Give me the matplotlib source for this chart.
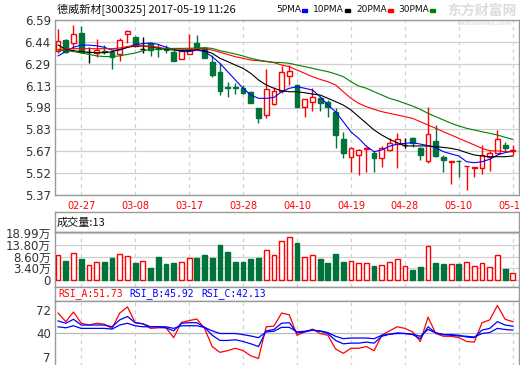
import numpy as np
import matplotlib
matplotlib.use("Agg")
import matplotlib.pyplot as plt

plt.rcParams['font.family'] = ['DejaVu Sans', 'Noto Sans CJK SC']

# Kerzen (Index 0 = 02-22, Index 59 = 05-19)
eroeffnung = [6.374, 6.451, 6.427, 6.497, 6.365, 6.358, 6.375, 6.370, 6.350, 6.490,
              6.469, 6.390, 6.427, 6.395, 6.390, 6.370, 6.316, 6.350, 6.427, 6.397,
              6.300, 6.230, 6.120, 6.120, 6.118, 6.090, 5.974, 5.928, 6.002, 6.095,
              6.200, 6.137, 5.986, 6.020, 6.044, 6.020, 5.950, 5.760, 5.633, 5.649,
              5.690, 5.665, 5.626, 5.684, 5.725, 5.718, 5.765, 5.700, 5.609, 5.749,
              5.637, 5.600, 5.609, 5.572, 5.560, 5.556, 5.637, 5.665, 5.718, 5.675]
hoch = [6.527, 6.455, 6.555, 6.550, 6.404, 6.455, 6.415, 6.380, 6.462, 6.520,
        6.478, 6.474, 6.432, 6.420, 6.415, 6.381, 6.390, 6.490, 6.485, 6.404,
        6.346, 6.288, 6.155, 6.153, 6.137, 6.097, 5.974, 6.246, 6.125, 6.272,
        6.276, 6.142, 6.037, 6.114, 6.055, 6.032, 5.974, 5.811, 5.707, 5.688,
        5.705, 5.677, 5.712, 5.765, 5.800, 5.765, 5.777, 5.707, 5.981, 5.858,
        5.649, 5.607, 5.614, 5.575, 5.563, 5.718, 5.679, 5.823, 5.742, 5.719]
tief = [6.358, 6.358, 6.390, 6.360, 6.292, 6.334, 6.355, 6.246, 6.306, 6.432,
        6.404, 6.362, 6.340, 6.335, 6.358, 6.306, 6.316, 6.350, 6.404, 6.327,
        6.195, 6.067, 6.056, 6.074, 6.074, 6.009, 5.870, 5.905, 6.000, 6.079,
        6.137, 5.981, 5.916, 5.958, 5.958, 5.916, 5.700, 5.630, 5.533, 5.510,
        5.533, 5.533, 5.567, 5.677, 5.556, 5.695, 5.707, 5.614, 5.595, 5.637,
        5.533, 5.450, 5.498, 5.405, 5.493, 5.516, 5.540, 5.660, 5.679, 5.650]
schluss = [6.444, 6.370, 6.490, 6.370, 6.365, 6.381, 6.365, 6.334, 6.450, 6.513,
           6.410, 6.390, 6.381, 6.385, 6.380, 6.306, 6.381, 6.385, 6.404, 6.327,
           6.207, 6.097, 6.115, 6.115, 6.079, 6.009, 5.909, 6.107, 6.095, 6.225,
           6.237, 5.986, 6.037, 6.050, 6.009, 5.986, 5.788, 5.665, 5.695, 5.684,
           5.700, 5.626, 5.695, 5.735, 5.758, 5.718, 5.730, 5.649, 5.793, 5.642,
           5.614, 5.607, 5.605, 5.575, 5.563, 5.649, 5.665, 5.760, 5.695, 5.683]

ma5 = [6.340, 6.370, 6.400, 6.415, 6.415, 6.410, 6.400, 6.380, 6.380, 6.400,
       6.420, 6.425, 6.430, 6.420, 6.400, 6.385, 6.370, 6.370, 6.380, 6.370,
       6.334, 6.288, 6.230, 6.172, 6.114, 6.067, 6.044, 6.044, 6.050, 6.090,
       6.114, 6.125, 6.114, 6.102, 6.055, 5.997, 5.950, 5.881, 5.810, 5.765,
       5.710, 5.672, 5.684, 5.710, 5.725, 5.730, 5.735, 5.725, 5.714, 5.700,
       5.672, 5.656, 5.642, 5.602, 5.595, 5.602, 5.619, 5.649, 5.665, 5.677]
ma10 = [6.416, 6.385, 6.376, 6.369, 6.365, 6.362, 6.362, 6.369, 6.385, 6.399,
        6.409, 6.409, 6.404, 6.395, 6.385, 6.381, 6.376, 6.376, 6.385, 6.376,
        6.358, 6.323, 6.300, 6.276, 6.253, 6.218, 6.172, 6.137, 6.114, 6.097,
        6.090, 6.090, 6.083, 6.074, 6.067, 6.044, 6.021, 5.997, 5.963, 5.916,
        5.870, 5.823, 5.788, 5.758, 5.735, 5.712, 5.712, 5.712, 5.712, 5.707,
        5.702, 5.695, 5.684, 5.665, 5.649, 5.642, 5.637, 5.637, 5.637, 5.642]
ma20 = [6.385, 6.388, 6.390, 6.390, 6.390, 6.390, 6.390, 6.390, 6.395, 6.405,
        6.410, 6.410, 6.405, 6.400, 6.390, 6.388, 6.386, 6.386, 6.390, 6.392,
        6.380, 6.365, 6.350, 6.334, 6.323, 6.311, 6.306, 6.300, 6.293, 6.276,
        6.265, 6.241, 6.218, 6.195, 6.176, 6.160, 6.137, 6.090, 6.044, 6.009,
        5.986, 5.967, 5.951, 5.939, 5.928, 5.916, 5.904, 5.881, 5.858, 5.835,
        5.811, 5.788, 5.765, 5.742, 5.719, 5.695, 5.679, 5.677, 5.672, 5.672]
ma30 = [6.380, 6.375, 6.370, 6.360, 6.350, 6.340, 6.335, 6.335, 6.340, 6.350,
        6.360, 6.375, 6.385, 6.388, 6.390, 6.392, 6.392, 6.393, 6.395, 6.397,
        6.392, 6.376, 6.365, 6.353, 6.339, 6.323, 6.311, 6.302, 6.295, 6.293,
        6.288, 6.276, 6.265, 6.253, 6.241, 6.230, 6.214, 6.195, 6.160, 6.130,
        6.114, 6.090, 6.067, 6.044, 6.028, 6.009, 5.990, 5.967, 5.939, 5.916,
        5.893, 5.870, 5.851, 5.835, 5.823, 5.811, 5.800, 5.788, 5.772, 5.758]

# Volumen in 万 (Skala wie beschriftet, Balkenfuss bei "0")
volumen = [9.34, 6.80, 10.10, 7.55, 4.87, 6.20, 6.20, 8.10, 9.80, 8.90,
           5.90, 6.66, 3.70, 8.45, 5.45, 5.90, 6.20, 8.00, 8.10, 9.50,
           8.10, 13.90, 10.80, 6.35, 6.35, 7.55, 8.10, 11.57, 9.34, 15.60,
           17.20, 14.80, 8.30, 9.34, 7.55, 5.90, 9.90, 6.35, 6.66, 5.90,
           5.77, 4.43, 4.87, 6.20, 7.55, 4.43, 2.64, 3.98, 13.35, 5.90,
           5.45, 5.30, 5.30, 6.08, 4.43, 5.77, 3.84, 9.34, 3.10, 1.30]
vol_basis = -1.8

rsi_a = [67.2, 55.4, 68.6, 53.2, 50.8, 53.2, 52.0, 46.2, 67.2, 75.6,
         54.0, 52.5, 46.2, 47.0, 47.0, 33.5, 54.4, 56.8, 59.1, 46.2,
         21.3, 13.4, 15.7, 19.0, 15.7, 8.7, 5.0, 48.4, 49.3, 67.2,
         64.8, 36.8, 41.4, 45.2, 39.2, 36.8, 18.1, 12.0, 19.0, 19.0,
         21.3, 15.7, 36.8, 42.8, 48.4, 46.2, 41.4, 28.3, 61.6, 39.2,
         35.4, 35.4, 33.5, 28.3, 27.4, 54.0, 57.8, 77.5, 58.7, 55.4]
rsi_b = [56.4, 53.2, 58.7, 50.8, 50.8, 50.8, 50.8, 48.4, 57.8, 62.5,
         54.0, 52.5, 48.4, 48.4, 47.0, 42.8, 53.2, 54.0, 54.0, 47.6,
         36.8, 29.7, 29.7, 30.6, 28.3, 25.1, 21.3, 42.8, 44.7, 53.2,
         54.0, 40.0, 41.4, 43.8, 42.3, 39.2, 29.7, 25.1, 26.0, 26.0,
         27.4, 26.0, 35.4, 38.2, 40.0, 39.2, 37.7, 32.1, 48.4, 40.0,
         37.7, 37.7, 36.8, 34.4, 33.5, 43.8, 46.2, 55.4, 50.8, 49.3]
rsi_c = [48.4, 47.0, 49.8, 46.2, 46.2, 46.2, 46.2, 45.2, 50.8, 53.2,
         49.8, 48.4, 48.4, 48.4, 48.4, 46.2, 49.8, 49.8, 49.8, 47.6,
         42.8, 39.2, 39.2, 39.2, 37.7, 35.8, 33.5, 41.4, 42.3, 47.6,
         47.6, 41.4, 42.3, 43.8, 42.8, 40.5, 35.4, 32.1, 33.0, 33.0,
         33.0, 32.1, 36.8, 38.2, 39.2, 39.2, 38.2, 35.4, 44.7, 40.0,
         37.7, 36.8, 35.8, 35.4, 34.4, 39.2, 40.5, 46.2, 44.7, 43.8]

datum_pos = [3, 10, 17, 24, 31, 38, 45, 52, 59]
datum_text = ['02-27', '03-08', '03-17', '03-28', '04-10', '04-19', '04-28', '05-10', '05-19']
preis_ticks = ['5.37', '5.52', '5.67', '5.83', '5.98', '6.13', '6.29', '6.44', '6.59']
vol_ticks = [vol_basis, 3.40, 8.60, 13.80, 18.99]
vol_text = ['0', '3.40万', '8.60万', '13.80万', '18.99万']
rsi_ticks = [7, 40, 72]

ROT = '#ff0000'
GRUEN = '#00733a'
RAHMEN = '#999999'
GITTER = '#d0d0d0'

W, H = 520, 365
fig = plt.figure(figsize=(W / 100, H / 100), dpi=100)


def achse(x0, y0, x1, y1):
    a = fig.add_axes([x0 / W, 1 - y1 / H, (x1 - x0) / W, (y1 - y0) / H])
    for s in a.spines.values():
        s.set_color(RAHMEN)
        s.set_linewidth(1.0)
    a.set_xlim(-0.4, 59.8)
    a.tick_params(length=0, labelsize=8.5, labelcolor='#333333', pad=3)
    return a


x = np.arange(len(schluss))
o = np.array(eroeffnung)
c = np.array(schluss)
steigt = c >= o

# Hauptchart
ax = achse(55, 20, 519, 195)
ax.set_ylim(5.37, 6.59)
ax.set_yticks(np.linspace(5.37, 6.59, 9))
ax.set_yticklabels(preis_ticks)
ax.set_xticks(datum_pos)
ax.set_xticklabels(datum_text, color=ROT, fontsize=7)
ax.tick_params(axis='x', pad=4)
ax.grid(axis='y', color=GITTER, lw=0.9)
ax.grid(axis='x', color=GITTER, lw=0.9, ls=(0, (3, 3)))
ax.set_axisbelow(True)

for i in x:
    if o[i] == c[i]:
        farbe = 'black'
    elif steigt[i]:
        farbe = ROT
    else:
        farbe = GRUEN
    ax.vlines(i, tief[i], hoch[i], color=farbe, lw=1, zorder=2)
    if o[i] == c[i]:
        ax.hlines(c[i], i - 0.33, i + 0.33, color='black', lw=1, zorder=3)
    else:
        unten = min(o[i], c[i])
        hoehe = max(abs(c[i] - o[i]), 0.002)
        ax.bar(i, hoehe, bottom=unten, width=0.62,
               facecolor='white' if steigt[i] else GRUEN,
               edgecolor=farbe, lw=1, zorder=3)

ax.plot(x, ma5, color='blue', lw=0.8, zorder=4)
ax.plot(x, ma10, color='black', lw=0.8, zorder=4)
ax.plot(x, ma20, color=ROT, lw=0.8, zorder=4)
ax.plot(x, ma30, color='green', lw=0.8, zorder=4)

# Kopfzeile
fig.text(57 / W, 1 - 10 / H, '德威新材[300325] 2017-05-19 11:26', fontsize=8,
         family=['Noto Sans CJK SC', 'DejaVu Sans'], va='center', ha='left', color='#111111')
for tx, name, farbe in [(276, '5PMA', 'blue'), (313, '10PMA', 'black'),
                        (356, '20PMA', ROT), (398, '30PMA', 'green')]:
    fig.text(tx / W, 1 - 10 / H, name, fontsize=6.5, va='center', ha='left', color='#111111')
    breite = {4: 24, 5: 30}[len(name)]
    fig.patches.append(plt.Rectangle(((tx + breite + 2) / W, 1 - 12 / H), 5 / W, 3 / H,
                                     transform=fig.transFigure, color=farbe, figure=fig))
fig.text(482 / W, 1 - 11 / H, '东方财富网', fontsize=10, weight='bold',
         family=['Noto Sans CJK SC'], color='#dcdcdc', ha='center', va='center', zorder=10)
fig.text(484 / W, 1 - 24 / H, 'eastmoney.com', fontsize=4.5, weight='bold',
         color='#e2e2e2', ha='center', va='center', zorder=10)

# Volumen
kopf_v = achse(55, 212, 519, 232)
kopf_v.set_xticks([])
kopf_v.set_yticks([])
kopf_v.text(0.004, 0.45, '成交量:13', transform=kopf_v.transAxes, fontsize=8,
            family=['Noto Sans CJK SC', 'DejaVu Sans'], va='center', color='#111111')

av = achse(55, 232, 519, 287)
av.set_ylim(-4.9, 19.6)
av.set_yticks(vol_ticks)
av.set_yticklabels(vol_text)
av.set_xticks(datum_pos)
av.set_xticklabels([])
av.grid(axis='y', color=GITTER, lw=0.9)
av.grid(axis='x', color=GITTER, lw=0.9, ls=(0, (3, 3)))
av.set_axisbelow(True)
v = np.array(volumen)
av.bar(x[steigt], v[steigt] - vol_basis, bottom=vol_basis, width=0.62,
       facecolor='white', edgecolor=ROT, lw=1, zorder=3)
av.bar(x[~steigt], v[~steigt] - vol_basis, bottom=vol_basis, width=0.62,
       facecolor=GRUEN, edgecolor=GRUEN, lw=1, zorder=3)

# RSI
kopf_r = achse(55, 287, 519, 301)
kopf_r.set_xticks([])
kopf_r.set_yticks([])
for tx, text, farbe in [(58, 'RSI_A:51.73', ROT), (129, 'RSI_B:45.92', 'blue'),
                        (201, 'RSI_C:42.13', 'blue')]:
    fig.text(tx / W, 1 - 294 / H, text, fontsize=7, family='DejaVu Sans Mono',
             va='center', ha='left', color=farbe)

ar = achse(55, 301, 519, 366)
ar.set_ylim(-5.3, 83.7)
ar.set_yticks(rsi_ticks)
ar.set_xticks(datum_pos)
ar.set_xticklabels([])
ar.grid(axis='x', color=GITTER, lw=0.9, ls=(0, (3, 3)))
ar.axhline(40, color='#bbbbbb', lw=0.9, zorder=1)
ar.plot(x, rsi_a, color=ROT, lw=0.9)
ar.plot(x, rsi_b, color='blue', lw=0.9)
ar.plot(x, rsi_c, color='blue', lw=0.9)

fig.savefig('out.png', dpi=100)
